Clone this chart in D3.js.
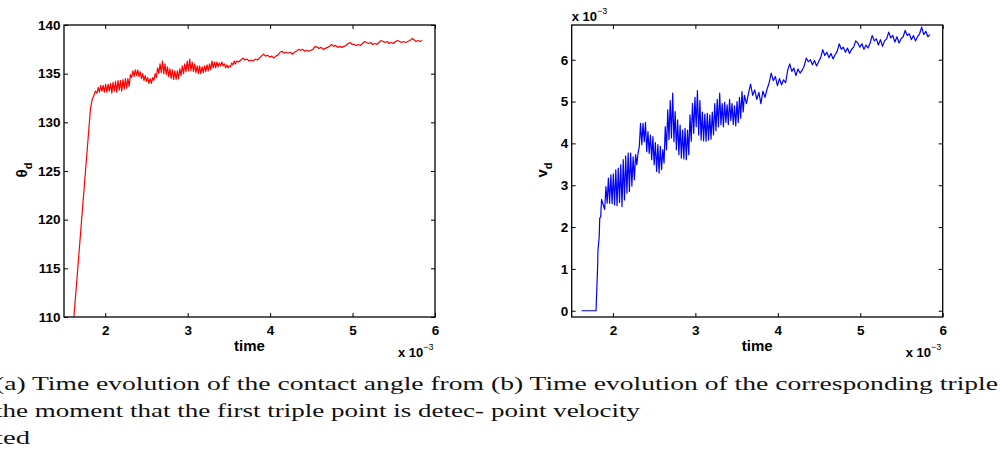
<!DOCTYPE html>
<html><head><meta charset="utf-8">
<script src="https://cdn.jsdelivr.net/npm/d3@7"></script>
<style>
html,body{margin:0;padding:0;background:#fff;}
svg{display:block;}
</style></head>
<body>
<script>
// ---------------- data (time in units of 1e-3) ----------------
const xTicks = [2, 3, 4, 5, 6];
const thetaTicks = [110, 115, 120, 125, 130, 135, 140];
const velTicks = [0, 1, 2, 3, 4, 5, 6];

// initial ramp (explicit time / value pairs)
const thetaRampTime = [1.62, 1.82, 1.84, 1.86, 1.88];
const thetaRamp     = [110, 131.3, 132.3, 132.7, 133.2];
const velRampTime   = [1.62, 1.795, 1.815, 1.818, 1.834, 1.84, 1.852, 1.862];
const velRamp       = [0, 0, 1.08, 1.42, 1.78, 2.21, 2.25, 2.66];

// oscillating phase, sampled every 0.015 from t = 1.9
const oscStart = 1.9, oscStep = 0.015;
const thetaOsc = [
133.0,133.6,133.1,133.8,133.2,133.8,133.1,133.9,133.1,133.9,
133.2,134.0,133.0,134.1,133.2,134.2,133.1,134.3,133.3,134.3,
133.2,134.4,133.4,134.5,133.5,134.5,133.7,134.9,134.6,135.3,
134.7,135.4,134.8,135.4,134.7,135.2,134.5,135.0,134.3,134.8,
134.2,134.6,134.0,134.5,134.0,134.6,134.3,135.0,134.6,135.6,
135.0,136.0,135.1,136.3,135.0,136.0,134.9,135.7,134.7,135.5,
134.5,135.4,134.4,135.3,134.4,135.3,134.5,135.5,134.8,135.8,
135.0,136.0,135.2,136.3,135.3,136.5,135.3,136.2,135.2,136.0,
135.1,135.8,135.0,135.8,135.0,135.7,135.1,135.8,135.2,135.9,
135.3,136.0,135.4,136.3,135.6,136.2,135.6,136.2,135.7,136.1,
135.8,136.2,135.8,136.0,135.6,135.9,135.6,135.8,135.7,136.1,
135.9,136.3,136.0,136.3];
const velOsc = [
2.42,2.97,2.57,3.17,2.57,3.25,2.56,3.27,2.53,3.37,
2.51,3.41,2.59,3.49,2.49,3.61,2.65,3.70,2.81,3.77,
2.85,3.77,2.98,3.68,3.13,3.73,3.49,3.77,3.92,4.48,
3.97,4.48,4.04,4.50,3.80,4.28,3.76,4.20,3.61,4.16,
3.49,4.02,3.33,3.97,3.29,3.93,3.37,3.85,3.53,4.40,
3.85,4.80,4.09,5.02,4.13,5.20,4.04,4.76,3.85,4.56,
3.73,4.44,3.65,4.32,3.63,4.36,3.61,4.32,3.73,4.68,
4.05,4.96,4.24,5.10,4.40,5.26,4.20,5.02,4.08,4.75,
4.06,4.70,4.05,4.72,4.08,4.68,4.10,4.75,4.20,4.95,
4.30,5.05,4.40,5.20,4.45,4.95,4.40,4.98,4.50,4.92,
4.45,5.05,4.55,4.95,4.45,4.90,4.42,5.00,4.50,5.10,
4.60,5.24,4.75,5.15];

// calmer phase, sampled every 0.025 from t = 3.62
const calmStart = 3.62, calmStep = 0.025;
const thetaCalm = [
136.2,136.4,136.6,136.4,136.5,136.3,136.4,136.3,136.5,136.4,
136.6,136.8,137.0,136.8,136.9,136.7,136.8,136.6,136.8,136.9,
137.2,137.3,137.1,137.2,137.1,137.2,137.0,137.2,137.3,137.5,
137.4,137.5,137.3,137.4,137.3,137.4,137.5,137.8,137.7,137.6,
137.7,137.5,137.6,137.7,137.8,138.0,137.8,137.9,137.7,137.8,
137.7,137.8,137.9,138.1,138.2,138.0,138.0,137.9,138.0,137.9,
138.1,138.3,138.2,138.1,138.2,138.0,138.1,138.0,138.2,138.4,
138.3,138.2,138.3,138.1,138.2,138.1,138.3,138.4,138.3,138.2,
138.3,138.2,138.3,138.4,138.6,138.5,138.3,138.4,138.3,138.4];
const velCalm = [
4.95,5.20,5.42,5.15,5.28,5.05,5.22,4.95,5.25,5.10,
5.30,5.45,5.68,5.50,5.60,5.38,5.55,5.40,5.52,5.45,
5.75,5.90,5.72,5.80,5.62,5.78,5.68,5.75,5.85,6.04,
5.95,6.00,5.88,5.98,5.85,5.95,6.05,6.24,6.10,6.18,
6.05,6.15,6.02,6.12,6.20,6.38,6.25,6.30,6.18,6.28,
6.15,6.25,6.30,6.45,6.40,6.30,6.38,6.25,6.35,6.28,
6.40,6.58,6.45,6.50,6.35,6.48,6.32,6.45,6.50,6.66,
6.52,6.58,6.42,6.55,6.40,6.50,6.55,6.70,6.58,6.62,
6.48,6.58,6.45,6.55,6.62,6.78,6.60,6.68,6.55,6.60];

function buildSeries(rampT, ramp, osc, calm) {
  return rampT.map((t, i) => [t, ramp[i]])
    .concat(osc.map((v, i) => [oscStart + i * oscStep, v]))
    .concat(calm.map((v, i) => [calmStart + i * calmStep, v]));
}
const thetaSeries = buildSeries(thetaRampTime, thetaRamp, thetaOsc, thetaCalm);
const velSeries = buildSeries(velRampTime, velRamp, velOsc, velCalm);

// ---------------- drawing ----------------
const W = 1001, H = 456;
const svg = d3.select("body").append("svg").attr("width", W).attr("height", H);
const tickFont = "'Liberation Sans', Arial, Helvetica, sans-serif";

function panel(opt) {
  const x = d3.scaleLinear().domain([1.5, 6]).range([opt.x0, opt.x1]);
  const y = d3.scaleLinear().domain(opt.yDomain).range([317, 25]);
  const g = svg.append("g");
  const clipId = "clip" + opt.id;
  svg.append("clipPath").attr("id", clipId).append("rect")
    .attr("x", opt.x0).attr("y", 25).attr("width", opt.x1 - opt.x0).attr("height", 292);

  g.append("path").datum(opt.data)
    .attr("clip-path", `url(#${clipId})`)
    .attr("fill", "none").attr("stroke", opt.color).attr("stroke-width", 1.2)
    .attr("stroke-linejoin", "round")
    .attr("d", d3.line().x(d => x(d[0])).y(d => y(d[1])));

  const style = s => s.selectAll("text").attr("font-family", tickFont)
      .attr("font-weight", "bold").attr("font-size", "13.5px").attr("fill", "#000");

  const bottom = g.append("g").attr("transform", "translate(0,317)")
    .call(d3.axisBottom(x).tickValues(xTicks).tickSizeInner(-4).tickSizeOuter(0).tickPadding(8).tickFormat(d3.format("d")));
  style(bottom);
  g.append("g").attr("transform", "translate(0,25)")
    .call(d3.axisTop(x).tickValues(xTicks).tickSizeInner(-4).tickSizeOuter(0).tickFormat(""));
  const left = g.append("g").attr("transform", `translate(${opt.x0},0)`)
    .call(d3.axisLeft(y).tickValues(opt.yTicks).tickSizeInner(-4).tickSizeOuter(0).tickPadding(3.5).tickFormat(d3.format("d")));
  style(left);
  g.append("g").attr("transform", `translate(${opt.x1},0)`)
    .call(d3.axisRight(y).tickValues(opt.yTicks).tickSizeInner(-4).tickSizeOuter(0).tickFormat(""));
  g.selectAll(".domain").remove();
  g.selectAll(".tick line").attr("stroke", "#000").attr("stroke-width", 1);
  g.append("rect").attr("x", opt.x0).attr("y", 25).attr("width", opt.x1 - opt.x0).attr("height", 292)
    .attr("fill", "none").attr("stroke", "#000").attr("stroke-width", 1.3);

  // axis labels
  g.append("text").attr("x", (opt.x0 + opt.x1) / 2).attr("y", 351).attr("text-anchor", "middle")
    .attr("font-family", tickFont).attr("font-weight", "bold").attr("font-size", "15px").text("time");
  const yl = g.append("text").attr("transform", `translate(${opt.ylx},170) rotate(-90)`)
    .attr("text-anchor", "middle").attr("font-family", tickFont).attr("font-weight", "bold").attr("font-size", "15px");
  yl.append("tspan").text(opt.ylabel);
  yl.append("tspan").attr("dy", 5).attr("font-size", "11px").text("d");

  // exponent labels
  const expo = (ex, ey) => {
    const t = g.append("text").attr("x", ex).attr("y", ey).attr("font-family", tickFont)
      .attr("font-weight", "bold").attr("font-size", "13px");
    t.append("tspan").text("x 10");
    t.append("tspan").attr("dy", -7).attr("font-size", "9px").attr("font-weight", "normal").text("\u22123");
  };
  expo(opt.x1 - 37, 357);
  if (opt.topExp) expo(opt.x0, 21);
}

panel({id: "a", x0: 64, x1: 435, yDomain: [110, 140], yTicks: thetaTicks, data: thetaSeries,
       color: "#ff0000", ylabel: "\u03b8", ylx: 27});
panel({id: "b", x0: 571.7, x1: 942.7, yDomain: [-0.15, 6.83], yTicks: velTicks, data: velSeries,
       color: "#0000ff", ylabel: "v", ylx: 547, topExp: true});

// captions
const capFont = "'Liberation Serif', 'Times New Roman', Times, serif";
function cap(x, y, str, len) {
  const t = svg.append("text").attr("x", x).attr("y", y).attr("font-family", capFont)
    .attr("font-size", "19px").attr("fill", "#111").text(str);
  if (len) t.attr("textLength", len).attr("lengthAdjust", "spacingAndGlyphs");
}
cap(-5, 390, "(a) Time evolution of the contact angle from", 489);
cap(-5, 417, "the moment that the first triple point is detec-", 489);
cap(-5, 444, "ted", 35);
cap(491, 390, "(b) Time evolution of the corresponding triple", 507);
cap(491, 417, "point velocity", 149);
</script>
</body></html>
